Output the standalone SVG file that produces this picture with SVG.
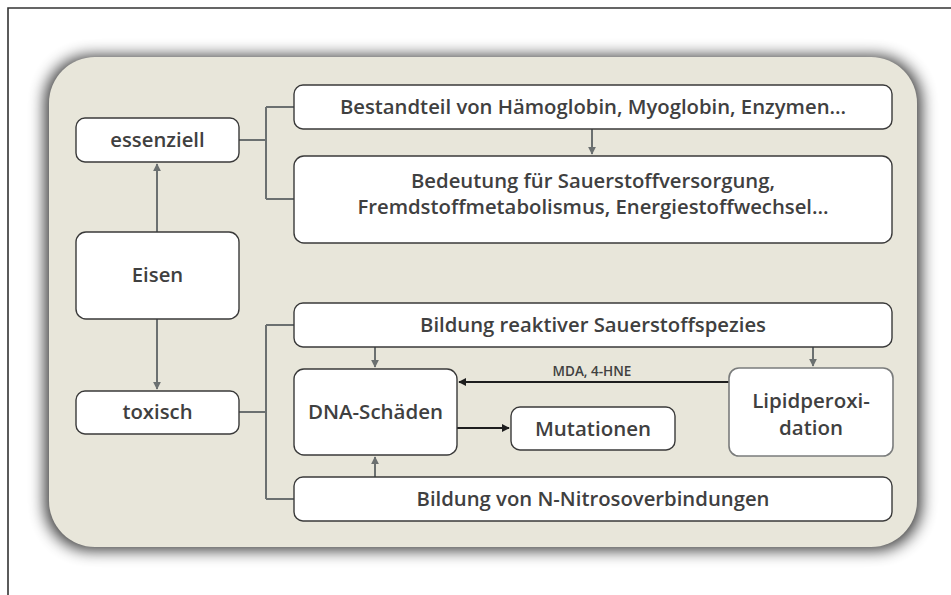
<svg xmlns="http://www.w3.org/2000/svg" width="951" height="595" viewBox="0 0 951 595">
<style>
.box{fill:#ffffff;stroke:#3a3a3a;stroke-width:1.4}
.boxg{fill:#ffffff;stroke:#7a7c7c;stroke-width:1.6}
.t{font-family:"Open Sans","Noto Sans","Liberation Sans",sans-serif;font-weight:600;font-size:20.3px;fill:#3f4040;text-anchor:middle}
.big{font-size:20.5px}
.small{font-size:13.5px}
.c{fill:none;stroke:#6b7070;stroke-width:2}
.k{fill:none;stroke:#1e1e1e;stroke-width:2}
</style>
<defs>
<filter id="sh" x="-10%" y="-10%" width="120%" height="120%">
<feGaussianBlur stdDeviation="8"/>
</filter>
<marker id="ag" viewBox="0 0 10 10" refX="9" refY="5" markerWidth="4" markerHeight="4" orient="auto" markerUnits="strokeWidth">
<path d="M0,0 L10,5 L0,10 z" fill="#6b7070"/>
</marker>
<marker id="ak" viewBox="0 0 10 10" refX="9" refY="5" markerWidth="4" markerHeight="4" orient="auto" markerUnits="strokeWidth">
<path d="M0,0 L10,5 L0,10 z" fill="#1e1e1e"/>
</marker>
</defs>
<rect x="0" y="0" width="951" height="595" fill="#ffffff"/>
<path d="M8,595 V8 H951" fill="none" stroke="#333333" stroke-width="1.6"/>
<g id="panel">
<rect x="45" y="56" width="876" height="494" rx="46" fill="#000000" opacity="0.8" filter="url(#sh)"/>
<rect x="49" y="57" width="868" height="490" rx="46" fill="#e8e6da"/>
</g>
<g id="connectors">
<path class="c" d="M157,232 V164" marker-end="url(#ag)"/>
<path class="c" d="M157,319 V389" marker-end="url(#ag)"/>
<path class="c" d="M239,140 H266 M266,107 V199 M266,107 H294 M266,199 H294"/>
<path class="c" d="M592,129 V154" marker-end="url(#ag)"/>
<path class="c" d="M239,412 H266 M266,325 V499 M266,325 H294 M266,499 H294"/>
<path class="c" d="M375,347 V367" marker-end="url(#ag)"/>
<path class="c" d="M375,477 V457" marker-end="url(#ag)"/>
<path class="c" d="M813,347 V366" marker-end="url(#ag)"/>
<path class="k" d="M729,382 H459" marker-end="url(#ak)"/>
<path class="k" d="M457,428 H509" marker-end="url(#ak)"/>
<text class="t small" x="592" y="376">MDA, 4-HNE</text>
</g>
<g id="essenziell">
<rect class="box" x="76" y="118" width="163" height="44" rx="9"/>
<text class="t" x="157.5" y="147">essenziell</text>
</g>
<g id="eisen">
<rect class="box" x="76" y="232" width="163" height="87" rx="10"/>
<text class="t" x="157.5" y="282">Eisen</text>
</g>
<g id="toxisch">
<rect class="box" x="76" y="391" width="163" height="43" rx="9"/>
<text class="t" x="157.5" y="419">toxisch</text>
</g>
<g id="bestandteil">
<rect class="box" x="294" y="85" width="598" height="44" rx="9"/>
<text class="t" x="593" y="114">Bestandteil von Hämoglobin, Myoglobin, Enzymen…</text>
</g>
<g id="bedeutung">
<rect class="box" x="294" y="156" width="598" height="87" rx="10"/>
<text class="t" x="593" y="188">Bedeutung für Sauerstoffversorgung,</text>
<text class="t" x="593" y="214">Fremdstoffmetabolismus, Energiestoffwechsel…</text>
</g>
<g id="ros">
<rect class="box" x="294" y="303" width="598" height="44" rx="9"/>
<text class="t" x="593" y="332">Bildung reaktiver Sauerstoffspezies</text>
</g>
<g id="dna">
<rect class="box" x="294" y="369" width="163" height="86" rx="10"/>
<text class="t big" x="375.5" y="419">DNA-Schäden</text>
</g>
<g id="mutationen">
<rect class="box" x="511" y="407" width="164" height="43" rx="9"/>
<text class="t big" x="593" y="436">Mutationen</text>
</g>
<g id="lipid">
<rect class="boxg" x="729" y="368" width="164" height="88" rx="10"/>
<text class="t big" x="811" y="408">Lipidperoxi-</text>
<text class="t big" x="811" y="435">dation</text>
</g>
<g id="nitroso">
<rect class="box" x="294" y="477" width="598" height="44" rx="9"/>
<text class="t" x="593" y="506">Bildung von N-Nitrosoverbindungen</text>
</g>
</svg>
